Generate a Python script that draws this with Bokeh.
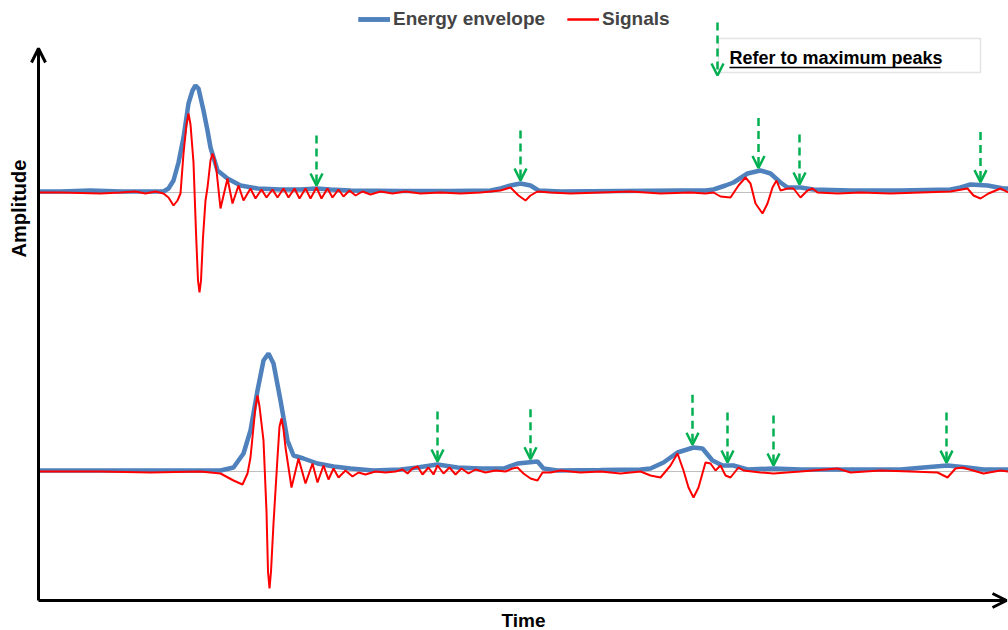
import numpy as np
from bokeh.plotting import figure
from bokeh.models import (Range1d, Arrow, OpenHead, Label, BoxAnnotation,
                          Legend, LegendItem)
from bokeh.embed import file_html
from bokeh.resources import INLINE

# ---------------- data (time in arbitrary units, amplitude in arbitrary units) ----------------
# Upper record
top_env_t = [0, 22, 52, 82, 112, 125, 130, 135, 140, 145, 150, 154, 157, 160, 165, 169, 172, 179,
             189, 202, 219, 242, 262, 278, 292, 312, 362, 412, 452, 462, 472, 482, 492, 500, 522,
             582, 642, 667, 675, 687, 695, 709, 722, 732, 742, 749, 762, 775, 812, 862, 912, 922,
             932, 949, 965, 970]
top_env_a = [1, 1, 2, 1, 1, 1, 4, 12, 30, 55, 89, 102, 107, 104, 82, 62, 45, 22,
             14, 7, 4, 3, 3, 4, 3, 2, 1.5, 1.5, 2, 4, 7, 9, 7, 2, 1,
             1.5, 2, 2, 3, 7, 10, 19, 22, 19, 10, 5, 5, 3, 2, 2, 3, 5,
             8, 7, 4, 4]

top_sig_t = [0, 22, 62, 82, 97, 107, 117, 125, 130, 135, 139, 142, 145, 148, 150, 152, 155, 157.5,
             159.5, 161, 162.5, 164.5, 167, 169, 172, 174, 176, 178, 182, 189, 194, 200, 205, 212,
             217, 223, 228, 234, 239, 245, 250, 256, 261, 267, 272, 278, 283, 289, 294, 300, 305,
             311, 317, 324, 332, 342, 354, 367, 382, 402, 422, 442, 462, 472, 480, 487, 492, 499,
             512, 532, 562, 592, 622, 652, 667, 675, 682, 692, 700, 707, 712, 717, 724, 729, 734,
             738, 742, 749, 755, 762, 769, 774, 779, 799, 822, 852, 882, 912, 929, 935, 942, 950,
             962, 970]
top_sig_a = [0, 0, -1, 0, 1, -1, 1, -1, -5, -13, -8, -1, 39, 68, 79, 68, 30, -40,
             -88, -100, -88, -45, -8, 5, 32, 39, 33, 22, -16, 14, -11, 7, -8, 4,
             -6, 3, -5, 3, -5, 4, -5, 4, -6, 4, -6, 5, -6, 4, -5, 3, -4,
             2, -3, 1, -2, 1, -1, 1, -1, 0, -1, 0, 2, 5, -3, -8, -3, 1,
             0, -1, 0, 1, -1, 0, -1, 0, -4, -5, 7, 15, 9, -11, -21, -11, 5,
             12, 2, 4, 4, -5, 2, 4, 0, -1, 0, -1, 0, 1, 4, -3, -6, -1,
             4, 0]

# Lower record
bot_env_t = [0, 62, 112, 162, 182, 195, 205, 212, 219, 225, 230, 235, 242, 249, 255, 265, 279, 295,
             312, 335, 362, 379, 399, 419, 442, 465, 479, 489, 499, 505, 519, 562, 602, 612, 625,
             639, 655, 664, 674, 684, 695, 709, 735, 762, 812, 862, 885, 909, 929, 945, 970]
bot_env_a = [1, 1, 1, 1, 1, 4, 18, 41, 81, 111, 118, 108, 71, 31, 16, 13, 8, 5,
             3, 1, 2, 4, 7, 4, 3, 3, 8, 9, 10, 3, 1, 1.5, 2, 3, 9,
             19, 24, 23, 11, 6, 6, 2, 3, 2, 2, 2, 4, 6, 4, 2, 2]

bot_sig_t = [0, 62, 112, 162, 182, 195, 204, 209, 212, 217, 219, 221, 225, 228, 229.5, 231, 232.5,
             235, 239, 241, 243, 245, 247, 253, 260, 267, 274, 279, 285, 290, 295, 300, 307, 314,
             320, 327, 337, 347, 357, 364, 369, 374, 379, 384, 390, 395, 399, 405, 411, 417, 423,
             430, 437, 447, 457, 467, 474, 479, 485, 492, 499, 504, 512, 522, 542, 562, 582, 602,
             612, 622, 632, 639, 645, 650, 655, 660, 667, 672, 677, 682, 687, 692, 700, 705, 722,
             735, 762, 799, 812, 842, 872, 899, 909, 917, 924, 945, 962, 970]
bot_sig_a = [0, 0, -1, 0, -2, -9, -13, -2, 14, 65, 76, 65, 31, -40, -100, -117, -100,
             -52, 14, 45, 53, 42, 24, -16, 13, -12, 8, -11, 6, -8, 3, -6, 1, -5,
             -1, -3, 0, -1, 0, 2, -2, 3, 5, -3, 4, -3, 6, -2, 4, -3, 3,
             -2, 2, -1, 1, 0, 3, 4, -2, -7, -9, -1, -1, 1, -1, 0, -2, 0,
             -4, -6, 6, 18, 1, -16, -26, -16, 9, 8, 1, 6, -4, -6, 4, 1, -1,
             -2, 0, 3, -1, 1, 0, -1, -6, 3, 4, -2, 1, 0]

# Times of the maximum peaks that are marked with arrows
top_peak_t = [278, 482, 720, 761, 942]
bot_peak_t = [399, 492, 654, 689, 735, 908]

# ---------------- layout / style ----------------
TOP_OFFSET = 279
BOT_OFFSET = 0
BLUE = "#4F81BD"
RED = "#FF0000"
GREEN = "#00B050"
FONT = "Liberation Sans"
X0, X1 = 0, 970

p = figure(width=1008, height=630, output_backend="svg", toolbar_location=None,
           x_range=Range1d(-38, X1), y_range=Range1d(-159, 471),
           x_axis_type=None, y_axis_type=None,
           min_border_left=0, min_border_right=0, min_border_top=0, min_border_bottom=0)
p.outline_line_color = None
p.grid.visible = False

# zero lines of each record
for off in (TOP_OFFSET, BOT_OFFSET):
    p.segment(x0=[X0], y0=[off], x1=[X1], y1=[off], line_color="#BFBFBF",
              line_width=1, level="underlay")

e1 = p.line(top_env_t, np.array(top_env_a) + TOP_OFFSET, line_color=BLUE, line_width=4.5)
e2 = p.line(bot_env_t, np.array(bot_env_a) + BOT_OFFSET, line_color=BLUE, line_width=4.5)
s1 = p.line(top_sig_t, np.array(top_sig_a) + TOP_OFFSET, line_color=RED, line_width=2)
s2 = p.line(bot_sig_t, np.array(bot_sig_a) + BOT_OFFSET, line_color=RED, line_width=2)

# peak arrows
GAP, LEN = 3, 50
for peaks, et, ea, off in ((top_peak_t, top_env_t, top_env_a, TOP_OFFSET),
                           (bot_peak_t, bot_env_t, bot_env_a, BOT_OFFSET)):
    for t in peaks:
        tip = off + float(np.interp(t, et, ea)) + GAP
        p.add_layout(Arrow(x_start=t, y_start=tip + LEN, x_end=t, y_end=tip,
                           line_color=GREEN, line_width=2.5, line_dash="8 5",
                           end=OpenHead(line_color=GREEN, line_width=2.5, size=12)))

# axes with arrow heads
p.add_layout(Arrow(x_start=X0, y_start=-129, x_end=X0, y_end=423, line_color="black", line_width=3,
                   end=OpenHead(line_color="black", line_width=3, size=14)))
p.add_layout(Arrow(x_start=X0, y_start=-129, x_end=968, y_end=-129, line_color="black", line_width=3,
                   end=OpenHead(line_color="black", line_width=3, size=14)))

p.add_layout(Label(x=-20, y=263, text="Amplitude", angle=np.pi / 2, text_align="center",
                   text_baseline="middle", text_font=FONT, text_font_style="bold",
                   text_font_size="20px", text_color="black"))
p.add_layout(Label(x=485, y=-149, text="Time", text_align="center",
                   text_baseline="middle", text_font=FONT, text_font_style="bold",
                   text_font_size="19px", text_color="black"))

# note box
p.add_layout(BoxAnnotation(left=680, right=942, bottom=399, top=433, fill_color="white",
                           fill_alpha=1, line_color="#A6A6A6", line_width=1.5, level="underlay"))
p.add_layout(Label(x=691, y=414, text="Refer to maximum peaks", text_align="left",
                   text_baseline="middle", text_font=FONT, text_font_style="bold",
                   text_font_size="18px", text_color="black"))
p.add_layout(Arrow(x_start=691, y_start=404, x_end=902, y_end=404, line_color="black",
                   line_width=1.5, end=None))
p.add_layout(Arrow(x_start=679, y_start=449, x_end=679, y_end=396,
                   line_color=GREEN, line_width=2.5, line_dash="8 5",
                   end=OpenHead(line_color=GREEN, line_width=2.5, size=12)))

legend = Legend(items=[LegendItem(label="Energy envelope", renderers=[e1, e2]),
                       LegendItem(label="Signals", renderers=[s1, s2])],
                location=(358, 600), orientation="horizontal",
                border_line_color=None, background_fill_alpha=0, padding=0, margin=0,
                spacing=22, glyph_width=32, glyph_height=20, label_height=20,
                label_standoff=3, label_text_font=FONT, label_text_font_style="bold",
                label_text_font_size="19px")
p.add_layout(legend)

open("out.html", "w").write(file_html(p, INLINE))
